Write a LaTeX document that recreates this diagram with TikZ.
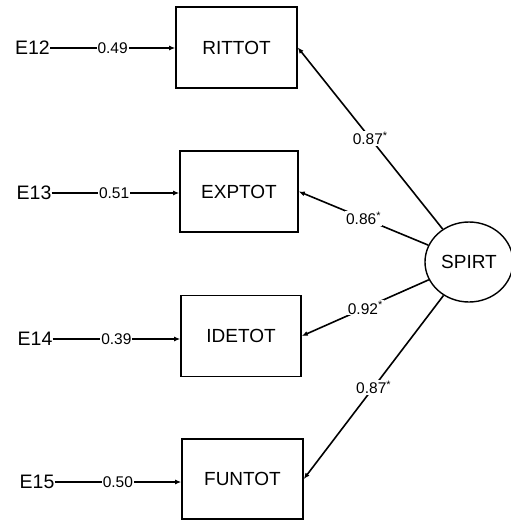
\documentclass[tikz,border=0pt]{standalone}
\usepackage{fontspec}
\setmainfont{Liberation Sans}
\usetikzlibrary{arrows.meta,shapes.geometric}
\begin{document}
\begin{tikzpicture}[x=1pt,y=-1pt,
  obs/.style={draw,line width=1.6pt,minimum width=120pt,minimum height=81pt,inner sep=0pt,font=\fontsize{19}{21}\selectfont},
  err/.style={inner sep=0pt,font=\fontsize{19.5}{21}\selectfont},
  lat/.style={draw,ellipse,line width=1.4pt,minimum width=88pt,minimum height=80pt,inner sep=0pt,font=\fontsize{19}{21}\selectfont},
  con/.style={line width=1.6pt,-{Latex[length=6pt,width=5pt]}},
  num/.style={fill=white,inner sep=1pt,font=\fontsize{15.5}{17}\selectfont}]
\useasboundingbox (0,0) rectangle (511,520);
\fill[white] (0,0) rectangle (511,520);
\node[obs,minimum width=121pt] (RITTOT) at (236.5,47.5) {RITTOT};
\node[obs,minimum width=118pt] (EXPTOT) at (239,191.5) {EXPTOT};
\node[obs] (IDETOT) at (241,336) {IDETOT};
\node[obs,minimum width=121pt,minimum height=80pt] (FUNTOT) at (242.5,479) {FUNTOT};
\node[err] (E12) at (32.5,48) {E12};
\node[err] (E13) at (34,193) {E13};
\node[err] (E14) at (35,339) {E14};
\node[err] (E15) at (37,482) {E15};
\node[lat] (SPIRT) at (469,262) {SPIRT};
\draw[con] (E12.east) -- (E12.east -| RITTOT.west) node[num,pos=0.5] {0.49};
\draw[con] (E13.east) -- (E13.east -| EXPTOT.west) node[num,pos=0.49] {0.51};
\draw[con] (E14.east) -- (E14.east -| IDETOT.west) node[num,pos=0.5] {0.39};
\draw[con] (E15.east) -- (E15.east -| FUNTOT.west) node[num,pos=0.5] {0.50};
\draw[con] (SPIRT) -- (RITTOT.east) node[num,pos=0.5] {0.87\textsuperscript{*}};
\draw[con] (SPIRT) -- (EXPTOT.east) node[num,pos=0.5] {0.86\textsuperscript{*}};
\draw[con] (SPIRT) -- (IDETOT.east) node[num,pos=0.5] {0.92\textsuperscript{*}};
\draw[con] (SPIRT) -- (FUNTOT.east) node[num,pos=0.5] {0.87\textsuperscript{*}};
\end{tikzpicture}
\end{document}
